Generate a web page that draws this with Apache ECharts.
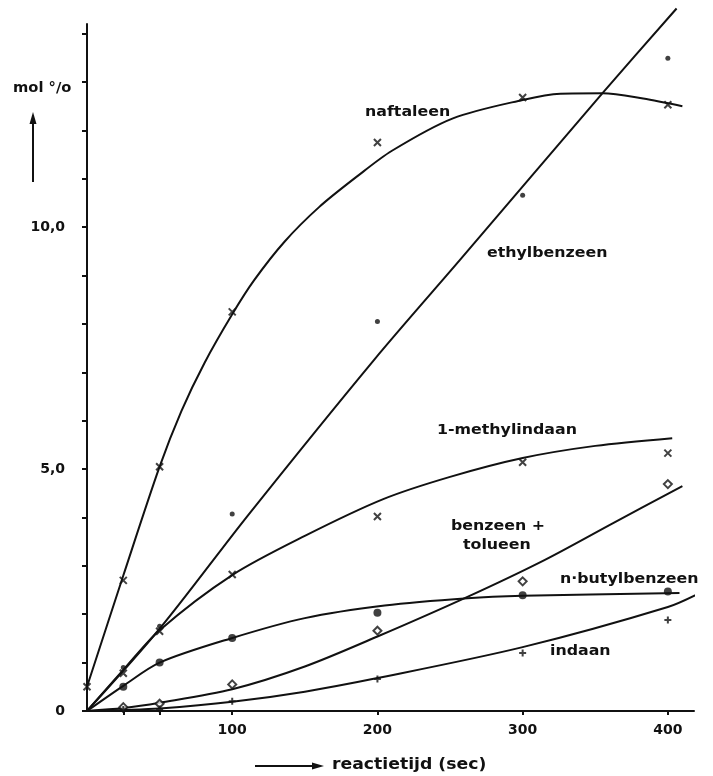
<!DOCTYPE html>
<html>
<head>
<meta charset="utf-8">
<script src="https://cdn.jsdelivr.net/npm/echarts@6/dist/echarts.min.js"></script>
<style>
html, body { margin: 0; padding: 0; background: #fff; }
#chart { width: 713px; height: 776px; }
</style>
</head>
<body>
<div id="chart"></div>
<script>
// Axis ticks and labels
const xTickValues = [25, 50, 100, 200, 300, 400];
const xLabelValues = [100, 200, 300, 400];
const yTickValues = [0, 1, 2, 3, 4, 5, 6, 7, 8, 9, 10, 11, 12, 13, 14];
const yLabelValues = [0, 5, 10];

// Measured concentrations (mol %) against reaction time (sec)
const naftaleenPts    = [[0, 0.5], [25, 2.7], [50, 5.05], [100, 8.25], [200, 11.75], [300, 12.68], [400, 12.53]];
const ethylbenzeenPts = [[25, 0.9], [50, 1.75], [100, 4.07], [200, 8.05], [300, 10.66], [400, 13.49]];
const methylindaanPts = [[25, 0.78], [50, 1.65], [100, 2.82], [200, 4.02], [300, 5.14], [400, 5.33]];
const butylbenzeenPts = [[25, 0.5], [50, 1.0], [100, 1.51], [200, 2.03], [300, 2.39], [400, 2.47]];
const benzeenPts      = [[25, 0.08], [50, 0.15], [100, 0.55], [200, 1.66], [300, 2.68], [400, 4.69]];
const indaanPts       = [[25, 0.03], [50, 0.04], [100, 0.2], [200, 0.66], [300, 1.2], [400, 1.88]];

// Hand-drawn trend curves
const naftaleenCurve    = [[0, 0.5], [25, 2.8], [50, 5.05], [65, 6.2], [81, 7.2], [100, 8.2], [115, 8.9], [136, 9.7], [160, 10.42], [186, 11.05], [210, 11.58], [252, 12.25], [300, 12.63], [326, 12.76], [355, 12.77], [383, 12.66], [410, 12.5]];
const ethylbenzeenCurve = [[0, 0], [50, 1.7], [111, 4.05], [198, 7.27], [257, 9.33], [355, 12.77], [406, 14.52]];
const methylindaanCurve = [[0, 0], [25, 0.85], [50, 1.67], [100, 2.81], [150, 3.62], [204, 4.38], [250, 4.84], [300, 5.23], [350, 5.48], [403, 5.64]];
const butylbenzeenCurve = [[0, 0], [25, 0.52], [50, 1.0], [99, 1.5], [150, 1.92], [205, 2.18], [262, 2.33], [300, 2.38], [408, 2.44]];
const benzeenCurve      = [[0, 0], [25, 0.06], [50, 0.17], [100, 0.45], [150, 0.92], [200, 1.54], [262, 2.36], [315, 3.12], [362, 3.88], [410, 4.65]];
const indaanCurve       = [[0, 0], [25, 0.02], [50, 0.05], [100, 0.19], [150, 0.4], [200, 0.68], [300, 1.32], [400, 2.15], [422, 2.44]];

const INK = '#111';
const crossSym = 'path://M0,0L10,10M10,0L0,10';
const plusSym = 'path://M5,0L5,10M0,5L10,5';

function curve(name, data, extra) {
  return Object.assign({
    name: name,
    type: 'line',
    data: data,
    smooth: 0.3,
    showSymbol: false,
    silent: true,
    lineStyle: { color: INK, width: 2 },
    z: 2
  }, extra || {});
}

function points(name, data, symbol, size, style) {
  return {
    name: name,
    type: 'scatter',
    data: data,
    symbol: symbol,
    symbolSize: size,
    itemStyle: style,
    z: 3
  };
}

const strokeOnly = { color: 'none', borderColor: INK, borderWidth: 2 };
const filled = { color: INK };

const labelFont = 'bold 14px "DejaVu Sans"';
function note(text, x, y) {
  return {
    type: 'text', x: x, y: y, scaleX: 1.13,
    style: { text: text, font: labelFont, fill: INK, textVerticalAlign: 'middle' }
  };
}

const chart = echarts.init(document.getElementById('chart'), null, { renderer: 'canvas' });

chart.setOption({
  backgroundColor: '#fff',
  animation: false,
  grid: { left: 87, right: 19, top: 24, bottom: 65 },
  xAxis: {
    type: 'value',
    min: 0,
    max: 418,
    splitLine: { show: false },
    axisLine: { lineStyle: { color: INK, width: 2 } },
    axisTick: { customValues: xTickValues, length: 4, lineStyle: { color: INK, width: 2 } },
    axisLabel: {
      customValues: xLabelValues,
      color: INK,
      fontFamily: 'DejaVu Sans',
      fontWeight: 'bold',
      fontSize: 14,
      margin: 12
    }
  },
  yAxis: {
    type: 'value',
    min: 0,
    max: 14.2,
    splitLine: { show: false },
    axisLine: { lineStyle: { color: INK, width: 2 } },
    axisTick: { customValues: yTickValues, length: 5, lineStyle: { color: INK, width: 2 } },
    axisLabel: {
      customValues: yLabelValues,
      color: INK,
      fontFamily: 'DejaVu Sans',
      fontWeight: 'bold',
      fontSize: 14,
      margin: 22,
      formatter: function (v) { return v === 0 ? '0' : v.toFixed(1).replace('.', ','); }
    }
  },
  series: [
    curve('naftaleen', naftaleenCurve),
    curve('ethylbenzeen', ethylbenzeenCurve, { clip: false }),
    curve('1-methylindaan', methylindaanCurve),
    curve('n-butylbenzeen', butylbenzeenCurve),
    curve('benzeen + tolueen', benzeenCurve),
    curve('indaan', indaanCurve),
    points('naftaleen', naftaleenPts, crossSym, 7, strokeOnly),
    points('ethylbenzeen', ethylbenzeenPts, 'circle', 5, filled),
    points('1-methylindaan', methylindaanPts, crossSym, 7, strokeOnly),
    points('n-butylbenzeen', butylbenzeenPts, 'circle', 8, filled),
    points('benzeen + tolueen', benzeenPts, 'diamond', 8, { color: '#fff', borderColor: INK, borderWidth: 2 }),
    points('indaan', indaanPts, plusSym, 7, strokeOnly)
  ],
  graphic: [
    note('naftaleen', 365, 112),
    note('ethylbenzeen', 487, 253),
    note('1-methylindaan', 437, 430),
    note('benzeen +', 451, 526),
    note('tolueen', 463, 545),
    note('n·butylbenzeen', 560, 579),
    note('indaan', 550, 651),
    {
      type: 'text', x: 13, y: 88, scaleX: 1.05,
      style: { text: 'mol °/o', font: 'bold 14px "DejaVu Sans"', fill: INK, textVerticalAlign: 'middle' }
    },
    { type: 'line', shape: { x1: 33, y1: 182, x2: 33, y2: 122 }, style: { stroke: INK, lineWidth: 2 } },
    { type: 'polygon', shape: { points: [[33, 112], [29.5, 124], [36.5, 124]] }, style: { fill: INK } },
    { type: 'line', shape: { x1: 255, y1: 766, x2: 314, y2: 766 }, style: { stroke: INK, lineWidth: 2 } },
    { type: 'polygon', shape: { points: [[324, 766], [312, 762.5], [312, 769.5]] }, style: { fill: INK } },
    {
      type: 'text', x: 332, y: 765, scaleX: 1.15,
      style: { text: 'reactietijd (sec)', font: 'bold 15px "DejaVu Sans"', fill: INK, textVerticalAlign: 'middle' }
    }
  ]
});
</script>
</body>
</html>
